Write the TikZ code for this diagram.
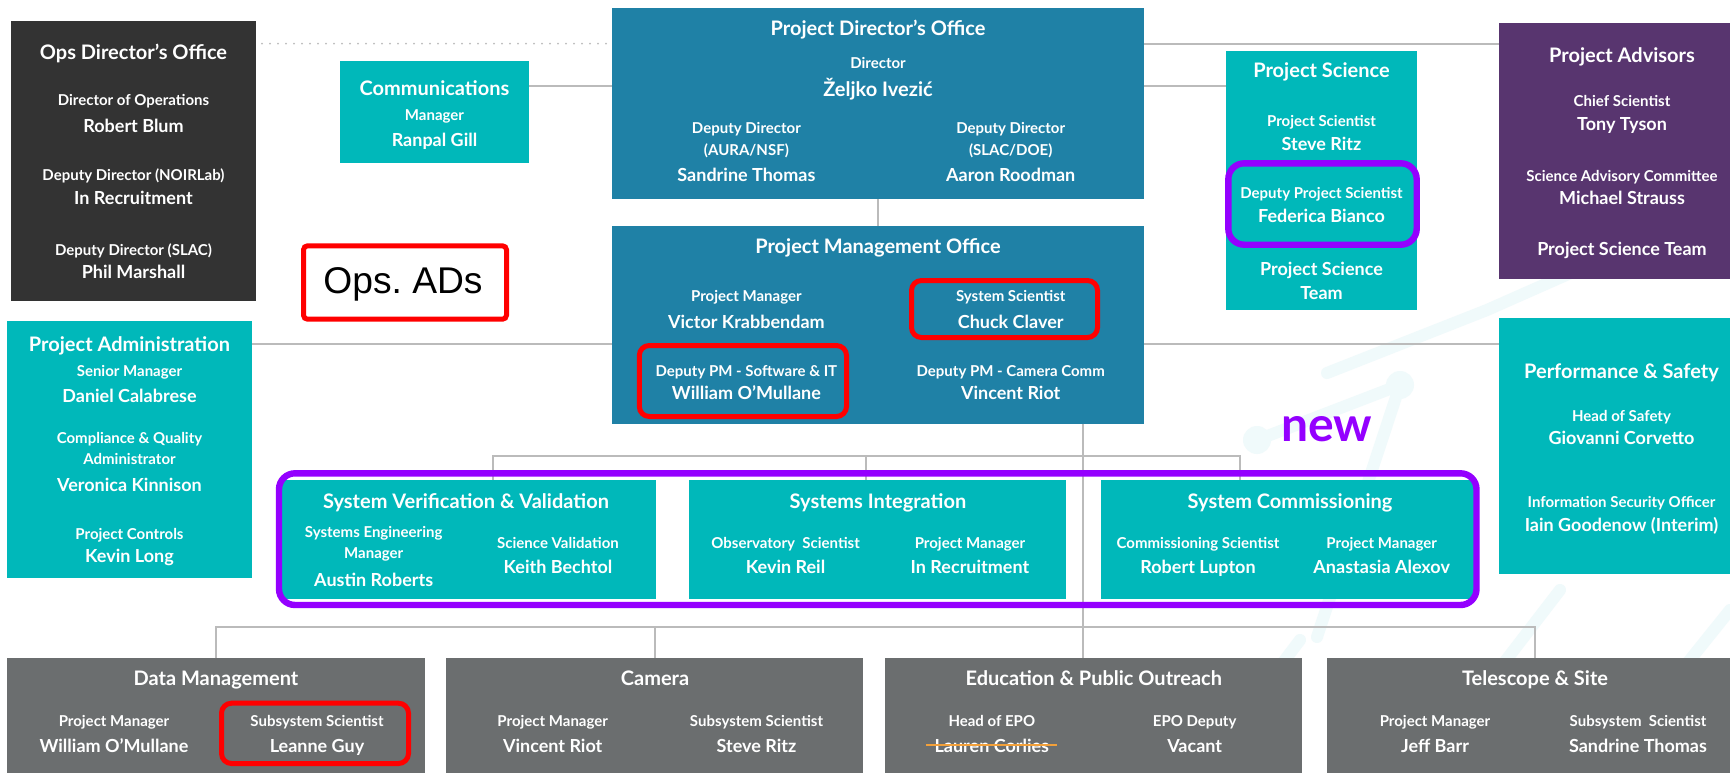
\documentclass[tikz,border=0pt]{standalone}
\usepackage{fontspec}
\setmainfont{Lato}
\newfontfamily\adsfont{Liberation Sans}
\usetikzlibrary{fit}
\definecolor{Teal}{HTML}{00B8BA}
\definecolor{Steel}{HTML}{1F81A6}
\definecolor{Coal}{HTML}{333333}
\definecolor{Plum}{HTML}{58356F}
\definecolor{Slate}{HTML}{6B6E6F}
\definecolor{Violet}{HTML}{9400FF}
\definecolor{Wire}{HTML}{BBBBBB}
\definecolor{Strike}{HTML}{F2A03A}
\definecolor{Haze}{HTML}{F0FAFB}

\tikzset{
  orgbox/.style={rectangle, inner sep=0pt, outer sep=0pt},
  boxtitle/.style={text=white, anchor=mid, inner sep=0pt, yshift=-1pt, font=\fontsize{10}{11}\selectfont\bfseries},
  postline/.style={text=white, anchor=mid, inner sep=0pt, yshift=-0.8pt, font=\fontsize{7.5}{8.5}\selectfont\bfseries},
  nameline/.style={text=white, anchor=mid, inner sep=0pt, yshift=-1pt, font=\fontsize{9}{10}\selectfont\bfseries},
  wire/.style={draw=Wire, line width=1pt},
  flag/.style={draw=red, line width=2.5pt, rounded corners=5pt, inner sep=0pt},
  newframe/.style={draw=Violet, line width=3.2pt, rounded corners=8pt, inner sep=0pt},
}

% role on one line, person below it
\newcommand\staff[6]{%
  \node[postline] (#1-p) at (#2,#3) {#5};
  \node[nameline] (#1-n) at (#2,#4) {#6};}

\begin{document}
\begin{tikzpicture}[x=0.5pt,y=-0.5pt]
\useasboundingbox (0,0) rectangle (1730,772);
\fill[white] (0,0) rectangle (1730,772);

% faint swooshes behind the chart
\begin{scope}[draw=Haze, fill=Haze, line width=6pt, line cap=round]
  \draw (1257,440) -- (1400,385) -- (1317,637);
  \fill (1257,440) circle (14) (1400,385) circle (14);
  \draw (1327,373) -- (1487,310) -- (1600,260);
  \draw (1420,772) -- (1560,590);
  \draw (1600,772) -- (1730,610);
  \draw (1200,772) -- (1300,640);
\end{scope}

% levels and columns used by the connectors
\coordinate (lvlA) at (0,43.7);
\coordinate (lvlB) at (0,86);
\coordinate (lvlC) at (0,344);
\coordinate (tier) at (0,455.7);
\coordinate (base) at (0,627.3);
\coordinate (spine) at (1083,0);
\coordinate (dropA) at (493,0);
\coordinate (dropB) at (865.6,0);
\coordinate (dropC) at (1239.8,0);

% boxes
\node[orgbox, fill=Coal, fit={(11,21) (256,301)}] (ops) {};
\node[orgbox, fill=Teal, fit={(340,61) (529,162.7)}] (comm) {};
\node[orgbox, fill=Steel, fit={(612,8) (1144,199)}] (pdo) {};
\node[orgbox, fill=Steel, fit={(612,226) (1144,423.7)}] (pmo) {};
\node[orgbox, fill=Teal, fit={(1226,51) (1417,309.7)}] (ps) {};
\node[orgbox, fill=Plum, fit={(1499,23) (1745,279.3)}] (adv) {};
\node[orgbox, fill=Teal, fit={(7,321) (252,577.7)}] (padm) {};
\node[orgbox, fill=Teal, fit={(1499,318.3) (1745,574.3)}] (perf) {};
\node[orgbox, fill=Teal, fit={(282,480) (656,599)}] (svv) {};
\node[orgbox, fill=Teal, fit={(689,480) (1066.4,599)}] (si) {};
\node[orgbox, fill=Teal, fit={(1101,480) (1473.5,599)}] (sc) {};
\node[orgbox, fill=Slate, fit={(6.7,658.3) (424.8,780)}] (dm) {};
\node[orgbox, fill=Slate, fit={(446,658.3) (863,780)}] (cam) {};
\node[orgbox, fill=Slate, fit={(884.8,658.3) (1302,780)}] (epo) {};
\node[orgbox, fill=Slate, fit={(1327,658.3) (1743,780)}] (ts) {};

% connectors
\draw[wire, line cap=round, dash pattern=on 0pt off 4pt, shorten <=3pt, shorten >=2pt]
  (lvlA -| ops.east) -- (lvlA -| pdo.west);
\draw[wire] (lvlB -| comm.east) -- (lvlB -| pdo.west);
\draw[wire] (lvlB -| pdo.east) -- (lvlB -| ps.west);
\draw[wire] (lvlA -| pdo.east) -- (lvlA -| adv.west);
\draw[wire] (pdo.south) -- (pmo.north);
\draw[wire] (lvlC -| padm.east) -- (lvlC -| pmo.west);
\draw[wire] (lvlC -| pmo.east) -- (lvlC -| perf.west);
\draw[wire] (spine |- pmo.south) -- (spine |- epo.north);
\draw[wire] (dropA |- svv.north) |- (tier -| dropC) -- (dropC |- sc.north);
\draw[wire] (dropB |- tier) -- (dropB |- si.north);
\draw[wire] (dm.north) |- (base -| ts.north) -- (ts.north);
\draw[wire] (cam.north |- base) -- (cam.north);

% Ops Director's Office
\node[boxtitle] (ops-t) at (133.5,52.3) {Ops Director’s Office};
\staff{ops1}{133.5}{99}{125.3}{Director of Operations}{Robert Blum}
\staff{ops2}{133.5}{174}{197.3}{Deputy Director (NOIRLab)}{In Recruitment}
\staff{ops3}{133.5}{249}{271.7}{Deputy Director (SLAC)}{Phil Marshall}

% Communications
\node[boxtitle] (comm-t) at (434.5,88.3) {Communications};
\staff{comm1}{434.5}{114.3}{139}{Manager}{Ranpal Gill}

% Project Director's Office
\node[boxtitle] (pdo-t) at (878,28) {Project Director’s Office};
\node[postline] (pdo1-p) at (878,62) {Director};
\node[nameline, font=\fontsize{10}{11}\selectfont\bfseries] (pdo1-n) at (878,89) {Željko Ivezić};
\node[postline] (pdo2-a) at (746.4,127) {Deputy Director};
\staff{pdo2}{746.4}{148.7}{174}{(AURA/NSF)}{Sandrine Thomas}
\node[postline] (pdo3-a) at (1010.7,127) {Deputy Director};
\staff{pdo3}{1010.7}{148.7}{174}{(SLAC/DOE)}{Aaron Roodman}

% Project Management Office
\node[boxtitle] (pmo-t) at (878,246) {Project Management Office};
\staff{pmo1}{746.4}{295}{321}{Project Manager}{Victor Krabbendam}
\staff{pmo2}{1010.7}{295}{321}{System Scientist}{Chuck Claver}
\staff{pmo3}{746.4}{370}{392.7}{Deputy PM - Software \& IT}{William O’Mullane}
\staff{pmo4}{1010.7}{370}{392.7}{Deputy PM - Camera Comm}{Vincent Riot}

% Project Science
\node[boxtitle] (ps-t) at (1321.5,70.7) {Project Science};
\staff{ps1}{1321.5}{120}{143}{Project Scientist}{Steve Ritz}
\staff{ps2}{1321.5}{192}{215}{Deputy Project Scientist}{Federica Bianco}
\node[nameline] (ps-team) at (1321.5,268.7) {Project Science};
\node[nameline] (ps-team2) at (1321.5,292) {Team};

% Project Advisors
\node[boxtitle] (adv-t) at (1622,55.3) {Project Advisors};
\staff{adv1}{1622}{100}{123.3}{Chief Scientist}{Tony Tyson}
\staff{adv2}{1622}{175}{197.3}{Science Advisory Committee}{Michael Strauss}
\node[nameline] (adv-team) at (1622,248.3) {Project Science Team};

% Project Administration
\node[boxtitle] (padm-t) at (129.5,344.3) {Project Administration};
\staff{padm1}{129.5}{370}{395}{Senior Manager}{Daniel Calabrese}
\node[postline] (padm2-a) at (129.5,437) {Compliance \& Quality};
\staff{padm2}{129.5}{457.7}{484}{Administrator}{Veronica Kinnison}
\staff{padm3}{129.5}{532.7}{555.7}{Project Controls}{Kevin Long}

% Performance & Safety
\node[boxtitle] (perf-t) at (1621.5,371) {Performance \& Safety};
\staff{perf1}{1621.5}{414.7}{437.7}{Head of Safety}{Giovanni Corvetto}
\staff{perf2}{1621.5}{500.7}{524}{Information Security Officer}{Iain Goodenow (Interim)}

% system tier
\node[boxtitle] (svv-t) at (466,501) {System Verification \& Validation};
\node[postline] (svv1-a) at (373.7,531) {Systems Engineering};
\staff{svv1}{373.7}{552.3}{579}{Manager}{Austin Roberts}
\staff{svv2}{558}{542.3}{566.7}{Science Validation}{Keith Bechtol}
\node[boxtitle] (si-t) at (878,501) {Systems Integration};
\staff{si1}{785.6}{542.3}{566.7}{Observatory\ \ Scientist}{Kevin Reil}
\staff{si2}{970}{542.3}{566.7}{Project Manager}{In Recruitment}
\node[boxtitle] (sc-t) at (1290,501) {System Commissioning};
\staff{sc1}{1198}{542.3}{566.7}{Commissioning Scientist}{Robert Lupton}
\staff{sc2}{1381.7}{542.3}{566.7}{Project Manager}{Anastasia Alexov}

% subsystems
\node[boxtitle] (dm-t) at (216,678.3) {Data Management};
\staff{dm1}{114}{720}{745}{Project Manager}{William O’Mullane}
\staff{dm2}{317}{720}{745}{Subsystem Scientist}{Leanne Guy}
\node[boxtitle] (cam-t) at (655,678.3) {Camera};
\staff{cam1}{552.7}{720}{745}{Project Manager}{Vincent Riot}
\staff{cam2}{756.5}{720}{745}{Subsystem Scientist}{Steve Ritz}
\node[boxtitle] (epo-t) at (1093.8,678.3) {Education \& Public Outreach};
\staff{epo1}{991.8}{720}{745}{Head of EPO}{Lauren Corlies}
\staff{epo2}{1194.7}{720}{745}{EPO Deputy}{Vacant}
\node[boxtitle] (ts-t) at (1535,678.3) {Telescope \& Site};
\staff{ts1}{1435}{720}{745}{Project Manager}{Jeff Barr}
\staff{ts2}{1638}{720}{745}{Subsystem\ \ Scientist}{Sandrine Thomas}
\draw[Strike, line width=1pt, shorten <=-4pt, shorten >=-4pt] (epo1-n.west) -- (epo1-n.east);

% highlights
\node[flag, rounded corners=2pt, fit={(303.5,245.8) (506.5,319.2)}] (ads) {};
\node[anchor=base, inner sep=0pt, font=\adsfont\fontsize{18.6}{20}\selectfont] (ads-t) at (403,293) {Ops.\ ADs};
\node[flag, fit={(911.5,280.5) (1097.5,337.5)}] (hl-syssci) {};
\node[flag, fit={(639.3,345.5) (846.5,416.5)}] (hl-swit) {};
\node[flag, fit={(221.5,703.2) (408.5,763.5)}] (hl-dmsci) {};
\node[newframe, fit={(1228.3,163.3) (1416.7,244.7)}] (hl-dps) {};
\node[newframe, fit={(279,473.3) (1476.5,605)}] (sysgrp) {};
\node[anchor=mid, inner sep=0pt, text=Violet, font=\fontsize{24}{26}\selectfont\bfseries] (newtag) at (1327,436.7) {new};
\end{tikzpicture}
\end{document}
